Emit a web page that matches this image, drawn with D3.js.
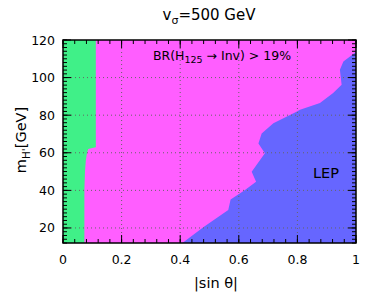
<!DOCTYPE html>
<html><head><meta charset="utf-8">
<script src="https://cdn.jsdelivr.net/npm/d3@7"></script>
<style>body{margin:0;background:#fff}svg{display:block;font-family:"DejaVu Sans",sans-serif}</style>
</head><body><svg id="c" width="374" height="295"></svg>
<script>
const xTicks=[0,0.2,0.4,0.6,0.8,1];
const xTickLabels=["0","0.2","0.4","0.6","0.8","1"];
const yTicks=[20,40,60,80,100,120];
const xDomain=[0,1], yDomain=[12,120];
// boundary of green region: [|sin θ|, mH']
const greenS=[0.073,0.073,0.075,0.078,0.082,0.086,0.1,0.112,0.112];
const greenM=[12,40,50,56,60,62,62.6,63,120];
// LEP excluded region boundary
const lepS=[0.4075,0.48,0.564,0.572,0.62,0.659,0.644,0.689,0.667,0.678,0.718,0.797,0.809,0.877,0.922,0.951,0.945,0.957,0.991,1];
const lepM=[12,20.5,29.5,35.2,40,44.6,49.9,59.7,65,70.3,75.7,81.8,82.9,86.5,91.8,96.2,104.2,108.6,112.5,113.6];

const svg=d3.select("#c");
const L=63,R=356,T=40,B=243;
const x=d3.scaleLinear().domain(xDomain).range([L,R]);
const y=d3.scaleLinear().domain(yDomain).range([B,T]);
const line=d3.line().x(d=>x(d[0])).y(d=>y(d[1]));

svg.append("rect").attr("x",L).attr("y",T).attr("width",R-L).attr("height",B-T).attr("fill","#ff5eff");
const g=[[0,yDomain[0]]].concat(greenS.map((s,i)=>[s,greenM[i]])).concat([[0,yDomain[1]]]);
svg.append("path").attr("d",line(g)+"Z").attr("fill","#40f088");
const b=lepS.map((s,i)=>[s,lepM[i]]).concat([[1,yDomain[0]]]);
svg.append("path").attr("d",line(b)+"Z").attr("fill","#6666ff");

// grid
const grid=svg.append("g").attr("stroke","#666").attr("stroke-width",1).attr("stroke-dasharray","1,3");
xTicks.slice(1,-1).forEach(v=>grid.append("line").attr("x1",x(v)).attr("x2",x(v)).attr("y1",T).attr("y2",B));
yTicks.slice(0,-1).forEach(v=>grid.append("line").attr("x1",L).attr("x2",R).attr("y1",y(v)).attr("y2",y(v)));

// axes with inside ticks
const xMinor=d3.range(0,1.0001,0.04);
const yMinor=d3.range(12,120.001,2);
function axisX(pos,dir){
  const a=svg.append("g").attr("stroke","#000").attr("stroke-width",1);
  xMinor.forEach(v=>a.append("line").attr("x1",x(v)).attr("x2",x(v)).attr("y1",pos).attr("y2",pos+dir*4));
  xTicks.forEach(v=>a.append("line").attr("x1",x(v)).attr("x2",x(v)).attr("y1",pos).attr("y2",pos+dir*8));
}
function axisY(pos,dir){
  const a=svg.append("g").attr("stroke","#000").attr("stroke-width",1);
  yMinor.forEach(v=>a.append("line").attr("y1",y(v)).attr("y2",y(v)).attr("x1",pos).attr("x2",pos+dir*4));
  yTicks.forEach(v=>a.append("line").attr("y1",y(v)).attr("y2",y(v)).attr("x1",pos).attr("x2",pos+dir*8));
}
axisX(B,-1);axisX(T,1);axisY(L,1);axisY(R,-1);
svg.append("rect").attr("x",L).attr("y",T).attr("width",R-L).attr("height",B-T).attr("fill","none").attr("stroke","#000").attr("stroke-width",1.5);

// tick labels
xTicks.forEach((v,i)=>svg.append("text").attr("x",x(v)).attr("y",264).attr("text-anchor","middle").attr("font-size",12.5).text(xTickLabels[i]));
yTicks.forEach(v=>svg.append("text").attr("x",55).attr("y",y(v)+4.5).attr("text-anchor","end").attr("font-size",12.5).text(v));

// title
const t=svg.append("text").attr("x",209).attr("y",20).attr("text-anchor","middle").attr("font-size",15);
t.append("tspan").text("v");
t.append("tspan").attr("font-size",11).attr("dy",4).text("σ");
t.append("tspan").attr("dy",-4).text("=500 GeV");

// annotation
const br=svg.append("text").attr("x",222).attr("y",60).attr("text-anchor","middle").attr("font-size",12.5);
br.append("tspan").text("BR(H");
br.append("tspan").attr("font-size",9.5).attr("dy",3).text("125");
br.append("tspan").attr("dy",-3).text(" → Inv) > 19%");
svg.append("text").attr("x",326).attr("y",178).attr("text-anchor","middle").attr("font-size",14.5).text("LEP");

// axis titles
svg.append("text").attr("x",216).attr("y",288).attr("text-anchor","middle").attr("font-size",14.5).text("|sin θ|");
const yl=svg.append("text").attr("transform","translate(26,140) rotate(-90)").attr("text-anchor","middle").attr("font-size",14.5);
yl.append("tspan").text("m");
yl.append("tspan").attr("font-size",10.5).attr("dy",4).text("H'");
yl.append("tspan").attr("dy",-4).text("[GeV]");
</script></body></html>
